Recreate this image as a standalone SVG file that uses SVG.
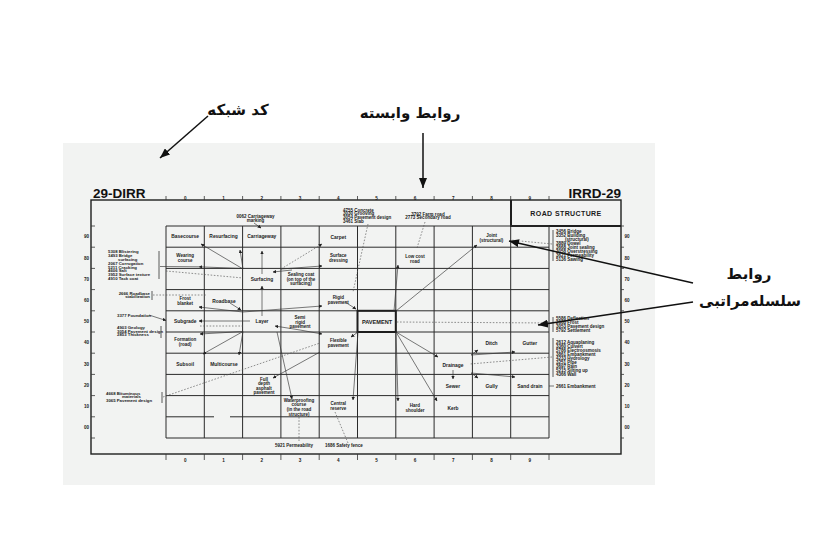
<svg xmlns="http://www.w3.org/2000/svg" width="830" height="544" viewBox="0 0 830 544">
<defs>
<marker id="a" viewBox="0 0 6 6" refX="5.5" refY="3" markerWidth="3.6" markerHeight="3.6" markerUnits="userSpaceOnUse" orient="auto"><path d="M0,0 L6,3 L0,6 z" fill="#222"/></marker>
<marker id="A" viewBox="0 0 10 8" refX="10" refY="4" markerWidth="10" markerHeight="8" markerUnits="userSpaceOnUse" orient="auto"><path d="M0,0 L10,4 L0,8 z" fill="#111"/></marker>
</defs>
<style>
.g{stroke:#2a2a2a;stroke-width:1;fill:none}
.f{stroke:#1e1e1e;stroke-width:1.4;fill:none}
.b{stroke:#1e1e1e;stroke-width:2;fill:none}
.k{stroke:#333;stroke-width:0.8;fill:none}
.c{stroke:#333;stroke-width:0.65;fill:none;marker-end:url(#a)}
.cc{stroke:#333;stroke-width:0.65;fill:none}
.d{stroke:#555;stroke-width:0.65;stroke-dasharray:1.6 1.6;fill:none}
.dm{stroke:#555;stroke-width:0.65;stroke-dasharray:1.6 1.6;fill:none;marker-end:url(#a)}
.an{stroke:#111;stroke-width:1.5;fill:none;marker-end:url(#A)}
.t{font-family:"Liberation Sans",Arial,sans-serif;font-weight:bold;font-size:4.9px;fill:#1a1a1a;text-anchor:middle}
.m{font-size:4.5px}
.s{font-family:"Liberation Sans",Arial,sans-serif;font-weight:bold;font-size:4.3px;fill:#1a1a1a;text-anchor:start}
.r{font-family:"Liberation Sans",Arial,sans-serif;font-weight:bold;font-size:4.5px;fill:#1a1a1a;text-anchor:start}
.n{font-family:"Liberation Sans",Arial,sans-serif;font-weight:bold;font-size:4.6px;fill:#1a1a1a;text-anchor:middle}
.h{font-family:"Liberation Sans",Arial,sans-serif;font-weight:bold;font-size:13.5px;fill:#111}
.fa{font-family:"DejaVu Sans",sans-serif;font-weight:bold;font-size:15px;fill:#111;text-anchor:middle}
</style>
<rect x="0" y="0" width="830" height="544" fill="#ffffff"/>
<rect x="63" y="143" width="592" height="342" fill="#f2f3f2"/>

<g id="frame">
<rect class="f" x="91" y="200" width="530" height="254"/>
<path class="b" d="M511,200 V226 H621"/>
<path class="g" d="M166,226 H549 M166,247.2 H549 M166,268.4 H549 M166,289.6 H549 M166,310.8 H549 M166,332 H549 M166,353.2 H549 M166,374.4 H549 M166,395.6 H549 M166,416.8 H214 M230,416.8 H549 M166,438 H549"/>
<path class="g" d="M166,226 V438 M204.3,226 V438 M242.6,226 V438 M280.9,226 V438 M319.2,226 V438 M357.5,226 V438 M395.8,226 V438 M434.1,226 V438 M472.4,226 V438 M510.7,226 V438 M549,226 V438"/>
<rect class="b" x="357.5" y="310.8" width="38.3" height="21.2"/>
</g>

<g id="axes">
<path class="k" d="M166,196 V200 M204.3,196 V200 M242.6,196 V200 M280.9,196 V200 M319.2,196 V200 M357.5,196 V200 M395.8,196 V200 M434.1,196 V200 M472.4,196 V200 M510.7,196 V200 M549,196 V200"/>
<path class="k" d="M166,454 V460 M204.3,454 V460 M242.6,454 V460 M280.9,454 V460 M319.2,454 V460 M357.5,454 V460 M395.8,454 V460 M434.1,454 V460 M472.4,454 V460 M510.7,454 V460 M549,454 V460"/>
<path class="k" d="M91,226 H95 M91,247.2 H95 M91,268.4 H95 M91,289.6 H95 M91,310.8 H95 M91,332 H95 M91,353.2 H95 M91,374.4 H95 M91,395.6 H95 M91,416.8 H95 M91,438 H95"/>
<path class="k" d="M621,226 H624 M621,247.2 H624 M621,268.4 H624 M621,289.6 H624 M621,310.8 H624 M621,332 H624 M621,353.2 H624 M621,374.4 H624 M621,395.6 H624 M621,416.8 H624 M621,438 H624"/>
<g class="n">
<text x="185.2" y="199.5">0</text><text x="223.5" y="199.5">1</text><text x="261.8" y="199.5">2</text><text x="300.1" y="199.5">3</text><text x="338.3" y="199.5">4</text><text x="376.6" y="199.5">5</text><text x="415" y="199.5">6</text><text x="453.3" y="199.5">7</text><text x="491.5" y="199.5">8</text><text x="529.9" y="199.5">9</text>
<text x="185.2" y="461.5">0</text><text x="223.5" y="461.5">1</text><text x="261.8" y="461.5">2</text><text x="300.1" y="461.5">3</text><text x="338.3" y="461.5">4</text><text x="376.6" y="461.5">5</text><text x="415" y="461.5">6</text><text x="453.3" y="461.5">7</text><text x="491.5" y="461.5">8</text><text x="529.9" y="461.5">9</text>
</g>
<g class="n" style="text-anchor:end">
<text x="89" y="238.3">90</text><text x="89" y="259.5">80</text><text x="89" y="280.7">70</text><text x="89" y="301.9">60</text><text x="89" y="323.1">50</text><text x="89" y="344.3">40</text><text x="89" y="365.5">30</text><text x="89" y="386.7">20</text><text x="89" y="407.9">10</text><text x="89" y="429.1">00</text>
</g>
<g class="n" style="text-anchor:start">
<text x="624.5" y="238.3">90</text><text x="624.5" y="259.5">80</text><text x="624.5" y="280.7">70</text><text x="624.5" y="301.9">60</text><text x="624.5" y="323.1">50</text><text x="624.5" y="344.3">40</text><text x="624.5" y="365.5">30</text><text x="624.5" y="386.7">20</text><text x="624.5" y="407.9">10</text><text x="624.5" y="429.1">00</text>
</g>
<text class="h" x="93" y="197.5">29-DIRR</text>
<text class="h" x="621" y="197.5" style="text-anchor:end">IRRD-29</text>
<text class="t" x="566" y="216" style="font-size:7px;letter-spacing:0.4px">ROAD  STRUCTURE</text>
</g>

<g id="nodes" class="t">
<g id="n-basecourse"><text x="185.2" y="238.4">Basecourse</text></g>
<g id="n-resurfacing"><text x="223.5" y="238.4">Resurfacing</text></g>
<g id="n-carriageway"><text x="261.8" y="238.4">Carriageway</text></g>
<g id="n-carpet"><text x="338.3" y="238.8">Carpet</text></g>
<g id="n-joint" class="m"><text x="491.5" y="237.4">Joint</text><text x="491.5" y="242">(structural)</text></g>
<g id="n-wearing" class="m"><text x="185.2" y="257.4">Wearing</text><text x="185.2" y="262">course</text></g>
<g id="n-surfdress" class="m"><text x="338.3" y="257.4">Surface</text><text x="338.3" y="262">dressing</text></g>
<g id="n-lowcost" class="m"><text x="415" y="258.4">Low cost</text><text x="415" y="263">road</text></g>
<g id="n-surfacing"><text x="262" y="280.8">Surfacing</text></g>
<g id="n-sealing" class="m"><text x="301" y="276">Sealing coat</text><text x="301" y="280.6">(on top of the</text><text x="301" y="285.2">surfacing)</text></g>
<g id="n-frost" class="m"><text x="185.2" y="300.4">Frost</text><text x="185.2" y="305">blanket</text></g>
<g id="n-roadbase"><text x="224" y="302.8">Roadbase</text></g>
<g id="n-rigid" class="m"><text x="338.3" y="299.4">Rigid</text><text x="338.3" y="304">pavement</text></g>
<g id="n-subgrade"><text x="185.2" y="323">Subgrade</text></g>
<g id="n-layer"><text x="262" y="323">Layer</text></g>
<g id="n-semirigid" class="m"><text x="300" y="319">Semi</text><text x="300" y="323.6">rigid</text><text x="300" y="328.2">pavement</text></g>
<g id="n-pavement"><text x="377" y="323.6" style="font-size:5.6px">PAVEMENT</text></g>
<g id="n-formation" class="m"><text x="185.2" y="341.4">Formation</text><text x="185.2" y="346">(road)</text></g>
<g id="n-flexible" class="m"><text x="338.3" y="342.4">Flexible</text><text x="338.3" y="347">pavement</text></g>
<g id="n-ditch"><text x="491.5" y="344.8">Ditch</text></g>
<g id="n-gutter"><text x="529.9" y="344.8">Gutter</text></g>
<g id="n-subsoil"><text x="185.2" y="365.8">Subsoil</text></g>
<g id="n-multicourse"><text x="224" y="365.8">Multicourse</text></g>
<g id="n-drainage"><text x="453" y="366.8">Drainage</text></g>
<g id="n-fulldepth" class="m"><text x="264" y="380.5">Full</text><text x="264" y="385.1">depth</text><text x="264" y="389.7">asphalt</text><text x="264" y="394.3">pavement</text></g>
<g id="n-sewer"><text x="453" y="388">Sewer</text></g>
<g id="n-gully"><text x="491.5" y="388">Gully</text></g>
<g id="n-sanddrain"><text x="529.9" y="388">Sand drain</text></g>
<g id="n-waterproofing" class="m"><text x="299" y="401.7">Waterproofing</text><text x="299" y="406.3">course</text><text x="299" y="410.9">(in the road</text><text x="299" y="415.5">structure)</text></g>
<g id="n-central" class="m"><text x="338.3" y="405.4">Central</text><text x="338.3" y="410">reserve</text></g>
<g id="n-hard" class="m"><text x="415" y="407.4">Hard</text><text x="415" y="412">shoulder</text></g>
<g id="n-kerb"><text x="453" y="409.8">Kerb</text></g>
</g>

<g id="related-terms">
<g id="rt-marking" class="t" style="font-size:4.5px"><text x="255.5" y="218">0062 Carriageway</text><text x="255.5" y="221.6">marking</text></g>
<g id="rt-concrete" class="r"><text x="343" y="211.5">4755 Concrete</text><text x="343" y="215.2">3030 Grooving</text><text x="343" y="218.9">3054 Pavement design</text><text x="343" y="222.6">3461 Slab</text></g>
<g id="rt-farm" class="t" style="font-size:4.5px"><text x="428" y="215.5">3792 Farm road</text><text x="428" y="219.2">2773 Secondary road</text></g>
<g id="rt-l1" class="s"><text x="108" y="253.3">5308 Blistering</text><text x="108" y="257.1">3493 Bridge</text><text x="118" y="260.9">surfacing</text><text x="108" y="264.7">2067 Corrugation</text><text x="108" y="268.5">5211 Cracking</text><text x="108" y="272.3">4606 Salt</text><text x="108" y="276.1">3952 Surface texture</text><text x="108" y="279.9">4910 Tack coat</text></g>
<g id="rt-l2" class="s" style="text-anchor:end"><text x="150" y="294.5">2666 Roadbase</text><text x="150" y="298.3">stabilization</text></g>
<g id="rt-l3" class="s"><text x="117" y="317.2">3377 Foundation</text></g>
<g id="rt-l4" class="s"><text x="117" y="329.2">4903 Geology</text><text x="117" y="332.8">3054 Pavement design</text><text x="117" y="336.4">2853 Thickness</text></g>
<g id="rt-l5" class="s"><text x="106" y="394.7">4668 Bituminous</text><text x="122" y="398.3">materials</text><text x="106" y="401.9">3065 Pavement design</text></g>
<g id="rt-r1" class="r"><text x="556" y="233">3456 Bridge</text><text x="556" y="237">3352 Building</text><text x="565" y="241">(structural)</text><text x="556" y="245">3889 Dowel</text><text x="556" y="249">3668 Joint sealing</text><text x="556" y="253">3058 Overstressing</text><text x="556" y="257">3621 Permeability</text><text x="556" y="261">5136 Sawing</text></g>
<g id="rt-r2" class="r"><text x="556" y="319.5">5586 Deflection</text><text x="556" y="323.5">2668 Frost</text><text x="556" y="327.5">3053 Pavement design</text><text x="556" y="331.5">5792 Settlement</text></g>
<g id="rt-r3" class="r"><text x="556" y="344">2612 Aquaplaning</text><text x="556" y="348">3360 Culvert</text><text x="556" y="352">5786 Electroosmosis</text><text x="556" y="356">3861 Embankment</text><text x="556" y="360">4233 Hydrology</text><text x="556" y="364">3251 Pipe</text><text x="556" y="368">3697 Rain</text><text x="556" y="372">5215 Silting up</text><text x="556" y="376">4366 Wall</text></g>
<g id="rt-r4" class="r"><text x="556" y="387.6">2661 Embankment</text></g>
<g id="rt-b1" class="r"><text x="275" y="446.6">5921 Permeability</text></g>
<g id="rt-b2" class="r"><text x="325" y="446.6">1686 Safety fence</text></g>
</g>

<g id="connectors">
<path class="k" d="M159,251 V279 M152,291 V300 M161,326 V338 M162,392 V403 M553,230 V261 M553,317 V332 M553,338 V377"/>
<path class="c" d="M243,269 L201,244"/>
<path class="c" d="M243,269 L240,250"/>
<path class="c" d="M243,268.5 L199,266.8"/>
<path class="cc" d="M199,266.8 L160,266.5"/>
<path class="d" d="M166,271 L243,278"/>
<path class="c" d="M262,274 L262,251"/>
<path class="c" d="M262,316 L262,286"/>
<path class="dm" d="M281,269 L322,244"/>
<path class="c" d="M281,269 L322,266"/>
<path class="c" d="M292,270 L273,272"/>
<path class="c" d="M243,312 L199,307"/>
<path class="c" d="M230,303 L241,310"/>
<path class="c" d="M250,321 L199,321"/>
<path class="c" d="M243,312 L322,306"/>
<path class="c" d="M243,331.5 L200,334"/>
<path class="c" d="M243,331.5 L203,354"/>
<path class="c" d="M243,331.5 L239,355"/>
<path class="d" d="M200,326 L243,326"/>
<path class="c" d="M300,330 L322,334"/>
<path class="c" d="M300,330 L275,326"/>
<path class="c" d="M277,332 L292,399"/>
<path class="c" d="M320,352 L273,378"/>
<path class="d" d="M163,397 L320,343"/>
<path class="c" d="M345,302 L356,309"/>
<path class="c" d="M396,311 L477,245"/>
<path class="c" d="M394,311 L398,265"/>
<path class="c" d="M358,332 L351,337"/>
<path class="c" d="M358,332 L353,400"/>
<path class="c" d="M396,332 L398,401"/>
<path class="c" d="M396,332 L437,401"/>
<path class="c" d="M396,332 L438,357"/>
<path class="c" d="M453,370 L453,379"/>
<path class="c" d="M471,355 L478,350"/>
<path class="c" d="M471,355 L515,352"/>
<path class="c" d="M471,373 L478,378"/>
<path class="c" d="M471,373 L515,377"/>
<path class="d" d="M552,244 L510,240"/>
<path class="d" d="M552,323 L397,322"/>
<path class="d" d="M552,357 L470,364"/>
<path class="cc" d="M549,386 L554,386"/>
<path class="d" d="M368,224 L353,292"/>
<path class="d" d="M425,222 L417,248"/>
<path class="c" d="M254,223 L261,228"/>
<path class="d" d="M335,412 L348,443"/>
<path class="d" d="M299,417 L299,442"/>
<path class="d" d="M153,295 L207,295"/>
<path class="c" d="M149,315 L166,320.5"/>
</g>

<g id="annotations">
<g id="ann-code"><text class="fa" x="238" y="115">کد شبکه</text><path class="an" d="M208,116 L160,158"/></g>
<g id="ann-related"><text class="fa" x="410" y="118">روابط وابسته</text><path class="an" d="M423,133 L423,188"/></g>
<g id="ann-hier"><text class="fa" x="749" y="279">روابط</text><text class="fa" x="750" y="306">سلسله&#x200C;مراتبی</text><path class="an" d="M693,283 L509,241"/><path class="an" d="M693,302 L538,325"/></g>
</g>
</svg>
